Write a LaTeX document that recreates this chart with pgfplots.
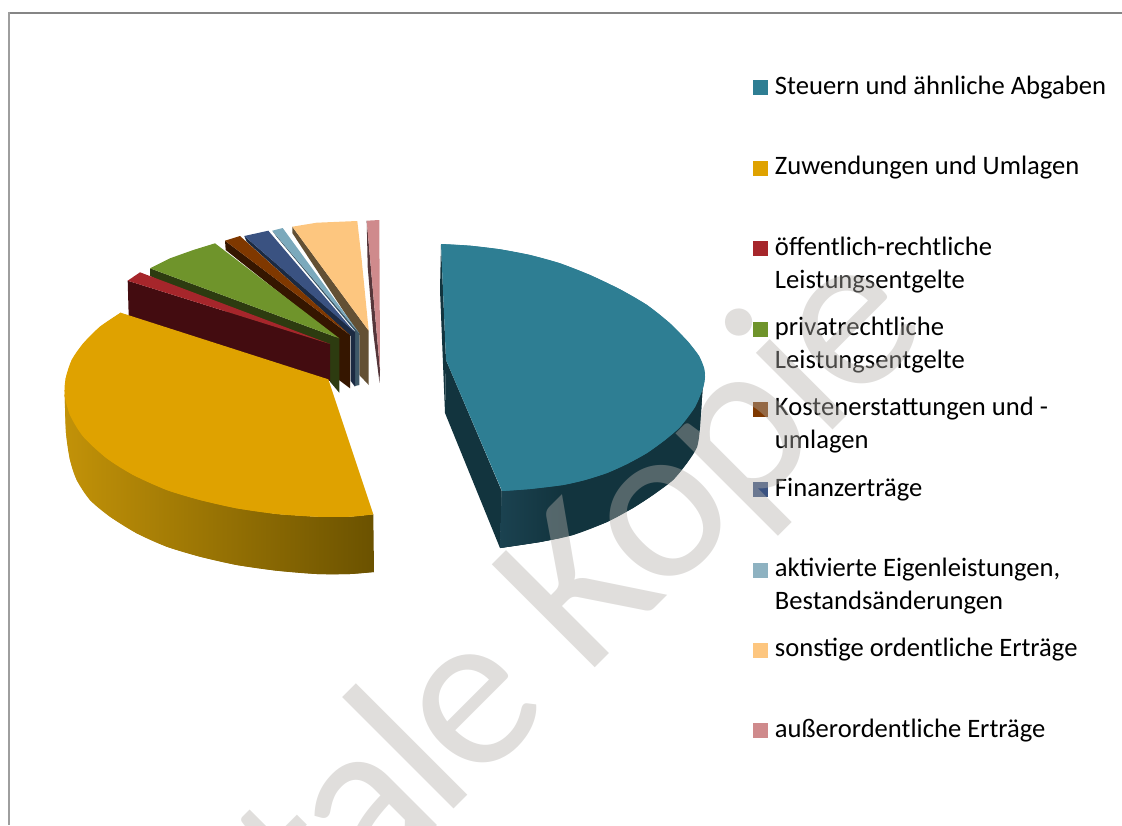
\documentclass[border=0pt]{standalone}
\usepackage{fontspec}
\setmainfont{Carlito}
\newfontfamily\markfont[LetterSpace=-3]{Carlito}
\usepackage{pgfplots}
\pgfplotsset{compat=1.18}

\definecolor{tealtop}{HTML}{2E7E93}
\definecolor{tealwall}{HTML}{12343E}
\definecolor{tealwallb}{HTML}{1B4250}
\definecolor{goldtop}{HTML}{DFA200}
\definecolor{goldl}{HTML}{C29208}
\definecolor{goldr}{HTML}{6B5200}
\definecolor{redtop}{HTML}{A6262B}
\definecolor{redwall}{HTML}{430C10}
\definecolor{greentop}{HTML}{6F942B}
\definecolor{greenwall}{HTML}{2D3B10}
\definecolor{browntop}{HTML}{7F3800}
\definecolor{brownwall}{HTML}{351600}
\definecolor{bluetop}{HTML}{3A5281}
\definecolor{bluewall}{HTML}{1B2A42}
\definecolor{ltbluetop}{HTML}{7BA9BC}
\definecolor{ltbluewall}{HTML}{3E5868}
\definecolor{ltblueleg}{HTML}{8EB2C1}
\definecolor{orangetop}{HTML}{FDC67F}
\definecolor{orangewall}{HTML}{635034}
\definecolor{pinktop}{HTML}{CF8A8C}
\definecolor{pinkwall}{HTML}{55363A}
\definecolor{markgray}{HTML}{B3AFAA}

\newcommand{\entry}[1]{\parbox[t]{345pt}{#1}}

\pgfplotsset{pieaxis/.style={
    x=1pt, y=1pt,
    scale only axis,
    hide axis,
    y dir=reverse,
    xmin=0, xmax=1122,
    ymin=0, ymax=825,
    clip=false,
    every axis plot/.append style={draw=none, mark=none, forget plot}
}}

\begin{document}
\begin{tikzpicture}
\begin{axis}[
    pieaxis,
    legend image code/.code={\fill[#1] (0pt,-1pt) rectangle (15pt,14pt);},
    legend style={
        at={(753/1122,1-74/825)}, anchor=north west,
        draw=none, fill=none, inner sep=0pt, outer sep=0pt,
        row sep=56.4pt, column sep=5pt,
        cells={anchor=base west, inner sep=0pt, outer sep=0pt},
        font=\fontsize{26.6}{33}\selectfont
    }
]

% pink slice
\addplot[fill=pinkwall] coordinates {(366.7,220.7) (367.7,267) (373.3,333) (379.5,382.7) (380,370)};
\addplot[fill=pinktop] coordinates {(366.7,220.7) (379.3,220) (379.7,300) (380,370)};

% orange
\addplot[fill=orangewall] coordinates {(292.3,226.7) (292.3,233) (359.3,335) (359.3,375) (368.7,385) (368.7,330.7)};
\addplot[fill=orangetop] coordinates {(292.3,226.7) (316.7,222.7) (357.3,221) (361.7,260) (368.7,330.7)};

% light blue
\addplot[fill=ltbluewall] coordinates {(272.3,230.7) (276,236) (355,331) (355,386) (359.3,385) (359.3,333.3)};
\addplot[fill=ltbluetop] coordinates {(272.3,230.7) (282.7,228) (359.3,333.3)};

% blue
\addplot[fill=bluewall] coordinates {(244.3,236) (246.7,241.7) (350.7,336) (350.7,381) (355,386.7) (355,331.7)};
\addplot[fill=bluetop] coordinates {(244.3,236) (268.3,230.7) (354.3,331.7)};

% brown
\addplot[fill=brownwall] coordinates {(225,240.7) (225.7,250) (339,340) (339,380) (350,388.3) (350,335)};
\addplot[fill=browntop] coordinates {(225,240.7) (240,236) (350,335)};

% green
\addplot[fill=greenwall] coordinates {(150,268.3) (150,276) (330,360) (330,381.7) (339.3,392.7) (339.3,338.3)};
\addplot[fill=greentop] coordinates {(150,268.3) (170,258.3) (193.3,250) (215,243.3) (339.3,338.3)};

% red
\addplot[fill=redwall] coordinates {(127.7,280.7) (128.7,316.7) (330,381) (330,344)};
\addplot[fill=redtop] coordinates {(127.7,280.7) (140,272.3) (330,344)};

% gold: polygon, then the same arc smoothed on top of it
\addplot[left color=goldl, right color=goldr] coordinates {
    (64.7,395) (66,433) (70,460) (76.7,480) (90,500) (110,516.7) (136.7,533.3)
    (166.7,546.7) (200,556.7) (236.7,565) (276.7,570.7) (316.7,574) (350,574)
    (374,572) (373.3,514.3) (350,516.7) (316.7,516.7) (276.7,514) (236.7,508.3)
    (200,500) (166.7,490) (133.3,475) (106.7,458.3) (83.3,436.7) (70,415)
};
\addplot[smooth, left color=goldl, right color=goldr] coordinates {
    (64.7,395) (66,433) (70,460) (76.7,480) (90,500) (110,516.7) (136.7,533.3)
    (166.7,546.7) (200,556.7) (236.7,565) (276.7,570.7) (316.7,574) (350,574) (374,572)
};
\addplot[fill=goldtop] coordinates {
    (120.7,312.7) (100,326.7) (83.3,343.3) (71.7,360) (65.7,378.3) (64.7,395)
    (70,415) (83.3,436.7) (106.7,458.3) (133.3,475) (166.7,490) (200,500)
    (236.7,508.3) (276.7,514) (316.7,516.7) (350,516.7) (373.3,514.3) (328.3,379.3)
};
\addplot[smooth, fill=goldtop] coordinates {
    (120.7,312.7) (100,326.7) (83.3,343.3) (71.7,360) (65.7,378.3) (64.7,395)
    (70,415) (83.3,436.7) (106.7,458.3) (133.3,475) (166.7,490) (200,500)
    (236.7,508.3) (276.7,514) (316.7,516.7) (350,516.7) (373.3,514.3)
};

% teal side walls (top face comes in the second axis, above the watermark)
\addplot[fill=tealwall] coordinates {(441,244.3) (440,290) (445,413) (446,360)};
\addplot[fill=tealwall] coordinates {(446,360) (445,413) (500,548) (501.7,491)};
\addplot[fill=tealwall] coordinates {
    (705,373) (703,383) (700,427) (697,447) (687,463) (673,480) (653,495)
    (633,508) (607,522) (573,535) (540,542) (500,548) (501.7,491) (600,400)
};
\addplot[smooth, fill=tealwall] coordinates {
    (705,373) (703,383) (700,427) (697,447) (687,463) (673,480) (653,495)
    (633,508) (607,522) (573,535) (540,542) (500,548)
};
\addplot[left color=tealwallb, right color=tealwall] coordinates {
    (560,538) (540,542) (500,548) (501.7,491) (560,482)
};

% legend
\addlegendimage{fill=tealtop}
\addlegendentry{\entry{Steuern und ähnliche Abgaben}}
\addlegendimage{fill=goldtop}
\addlegendentry{\entry{Zuwendungen und Umlagen}}
\addlegendimage{fill=redtop}
\addlegendentry{\entry{öffentlich-rechtliche\\Leistungsentgelte}}
\addlegendimage{fill=greentop}
\addlegendentry{\entry{privatrechtliche\\Leistungsentgelte}}
\addlegendimage{fill=browntop}
\addlegendentry{\entry{Kostenerstattungen und -\\umlagen}}
\addlegendimage{fill=bluetop}
\addlegendentry{\entry{Finanzerträge}}
\addlegendimage{fill=ltblueleg}
\addlegendentry{\entry{aktivierte Eigenleistungen,\\Bestandsänderungen}}
\addlegendimage{fill=orangetop}
\addlegendentry{\entry{sonstige ordentliche Erträge}}
\addlegendimage{fill=pinktop}
\addlegendentry{\entry{außerordentliche Erträge}}

\end{axis}

% page frame
\draw[line width=2pt,color=black!48] (1122pt,812pt) -- (9pt,812pt);
\draw[line width=2pt,color=black!38] (9pt,813pt) -- (9pt,0pt);

% watermark over the legend and the walls
\begin{scope}
\clip (0pt,0pt) rectangle (1122pt,825pt);
\node[rotate=45, anchor=base west, opacity=0.41, text=markgray, inner sep=0pt]
    at (95pt,-343pt) {\fontsize{227}{227}\markfont Digitale Kopie};
\end{scope}

% teal top face sits above the watermark
\begin{axis}[pieaxis]
\addplot[fill=tealtop] coordinates {
    (441,244) (470,245.7) (500,249.3) (530,255) (560,263.3) (590,275) (620,289.3)
    (647,305) (670,323.3) (688,341.7) (699,356) (704,368) (705,377)
    (703,388) (695,407) (680,427) (665,440) (647,453) (627,464) (607,473) (585,480)
    (563,485) (530,489) (502,491) (446,360)
};
\addplot[smooth, fill=tealtop] coordinates {
    (441,244) (470,245.7) (500,249.3) (530,255) (560,263.3) (590,275) (620,289.3)
    (647,305) (670,323.3) (688,341.7) (699,356) (704,368) (705,377)
    (703,388) (695,407) (680,427) (665,440) (647,453) (627,464) (607,473) (585,480)
    (563,485) (530,489) (502,491)
};
\end{axis}

\pgfresetboundingbox
\path[use as bounding box] (0pt,0pt) rectangle (1122pt,825pt);
\end{tikzpicture}
\end{document}
